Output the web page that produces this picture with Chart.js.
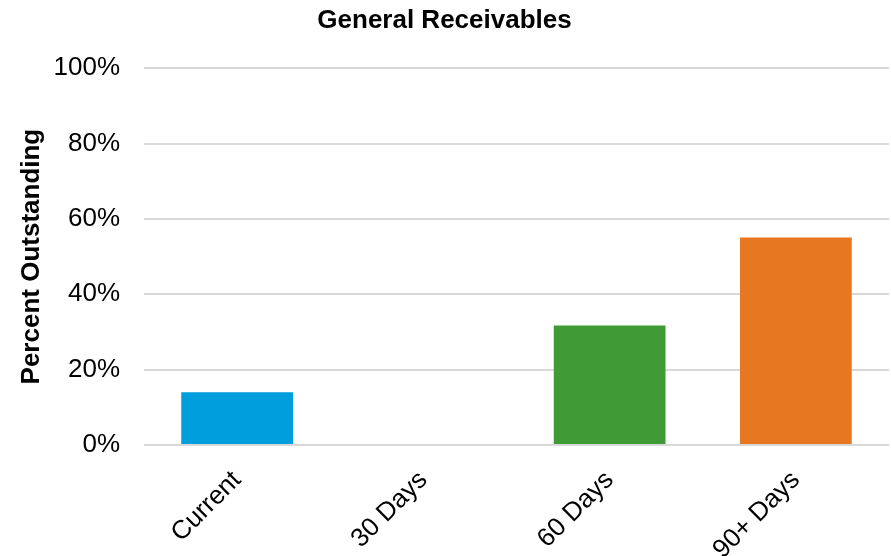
<!DOCTYPE html>
<html>
<head>
<meta charset="utf-8">
<script src="https://cdn.jsdelivr.net/npm/chart.js@4"></script>
<style>
  html, body { margin: 0; padding: 0; background: #fff; }
  #wrap { width: 891px; height: 556px; }
</style>
</head>
<body>
<div id="wrap"><canvas id="agingChart"></canvas></div>
<script>
const buckets = ["Current", "30 Days", "60 Days", "90+ Days"];
const pctOutstanding = [14, 0, 31.7, 55.1];
const barColors = ["#009edc", "#3f9b35", "#3f9b35", "#e87722"];
const yTicks = [0, 20, 40, 60, 80, 100];

const FONT = "'Liberation Sans', Arial, sans-serif";

new Chart(document.getElementById("agingChart"), {
  type: "bar",
  data: {
    labels: buckets,
    datasets: [{
      label: "Percent Outstanding",
      data: pctOutstanding,
      backgroundColor: barColors,
      borderWidth: 0,
      barPercentage: 0.6,
      categoryPercentage: 1.0
    }]
  },
  options: {
    responsive: true,
    maintainAspectRatio: false,
    animation: false,
    layout: { padding: { right: 2, left: 0, bottom: 0, top: 0 } },
    plugins: {
      legend: { display: false },
      tooltip: { enabled: false },
      title: {
        display: true,
        text: "General Receivables",
        color: "#000",
        font: { family: FONT, size: 26, weight: "bold" },
        padding: { top: 5, bottom: 32 }
      }
    },
    scales: {
      x: {
        grid: { display: false },
        border: { display: false },
        ticks: {
          color: "#000",
          font: { family: FONT, size: 26 },
          minRotation: 45,
          maxRotation: 45,
          padding: 12
        },
        afterFit: axis => { axis.height = 111; }
      },
      y: {
        min: 0,
        max: 100,
        afterBuildTicks: axis => { axis.ticks = yTicks.map(v => ({ value: v })); },
        grid: { color: "#d9d9d9", lineWidth: 2, drawTicks: false },
        border: { display: false },
        ticks: {
          color: "#000",
          font: { family: FONT, size: 26 },
          padding: 24,
          callback: v => v + "%"
        },
        title: {
          display: true,
          text: "Percent Outstanding",
          color: "#000",
          font: { family: FONT, size: 26, weight: "bold" },
          padding: { top: 16, bottom: 0 }
        },
        afterFit: axis => { axis.width = 144; }
      }
    }
  }
});
</script>
</body>
</html>
